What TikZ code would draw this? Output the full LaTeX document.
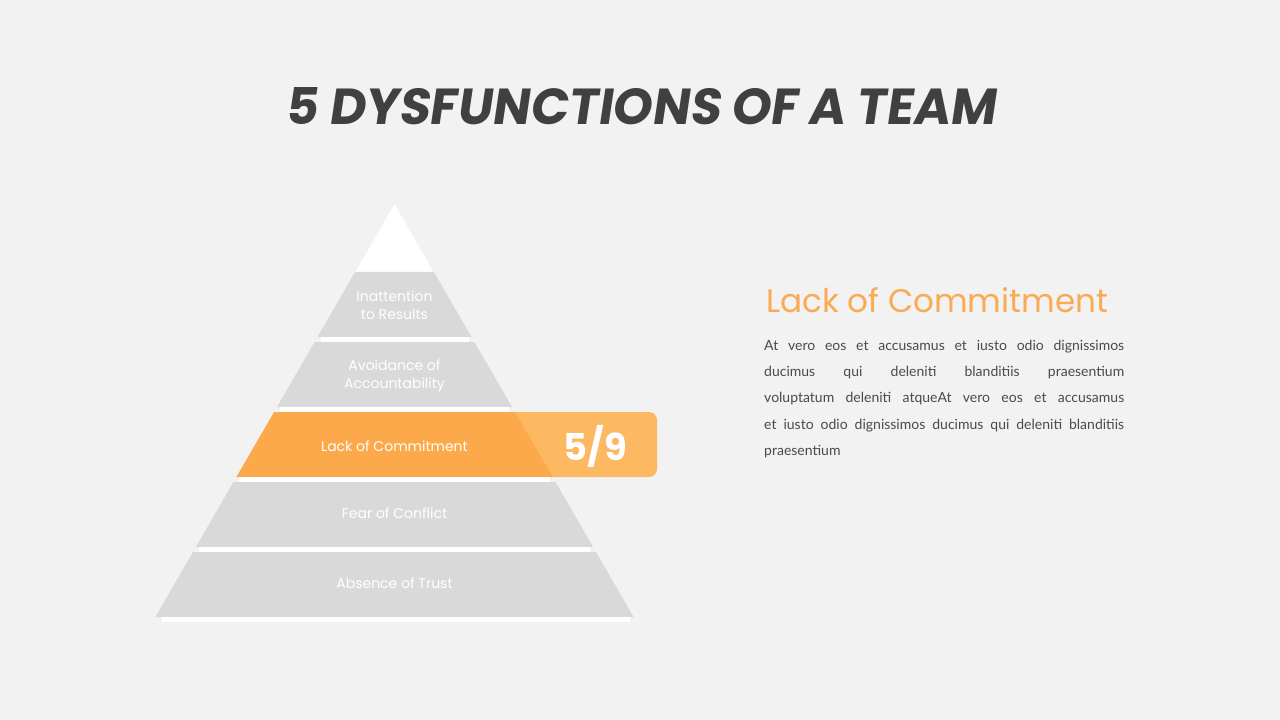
\documentclass[tikz,border=0pt]{standalone}
\usepackage{fontspec}
\setmainfont{Poppins}
\newfontfamily\titlefont[FakeSlant=0.15]{Poppins}
\newfontfamily\bodyfont{Lato}
\definecolor{bg}{HTML}{F2F2F2}
\definecolor{slabgray}{HTML}{D9D9D9}
\definecolor{slaborange}{HTML}{FBA94B}
\definecolor{boxorange}{HTML}{FDB862}
\definecolor{titlegray}{HTML}{404040}
\definecolor{headorange}{HTML}{F9AB53}
\definecolor{bodygray}{HTML}{4A4A4A}
\tikzset{
  slab/.style={fill=slabgray},
  hotslab/.style={fill=slaborange},
  gapstrip/.style={fill=white},
  slablabel/.style={text=white, font=\fontsize{14}{18.5}\selectfont, align=center, inner sep=0pt},
  bodyline/.style={anchor=base west, inner sep=0pt, text=bodygray, font=\bodyfont\fontsize{14}{16}\selectfont},
}
\begin{document}
\begin{tikzpicture}[x=1pt,y=-1pt]
\fill[bg] (0,0) rectangle (1280,720);
\useasboundingbox (0,0) rectangle (1280,720);

% title
\node[text=titlegray, inner sep=0pt] (title) at (640,106.5)
  {\resizebox{710pt}{37pt}{\titlefont\bfseries 5 DYSFUNCTIONS OF A TEAM}};

% 5/9 box (behind the orange slab)
\fill[boxorange, rounded corners=8pt] (470,412) rectangle (657,477);
\node[text=white, inner sep=0pt, font=\bfseries\fontsize{37}{40}\selectfont] (count) at (595,446) {5/9};

% pyramid
\fill[white] (394.5,204) -- (433.3,271.5) -- (355.7,271.5) -- cycle;
\fill[slab] (355.1,272) -- (433.9,272) -- (471.5,337) -- (317.5,337) -- cycle;
\fill[gapstrip] (320.5,337) rectangle (468.5,342);
\fill[slab] (314.6,342) -- (474.4,342) -- (512,407) -- (277,407) -- cycle;
\fill[gapstrip] (280,407) rectangle (509,412);
\fill[hotslab] (274.1,412) -- (514.9,412) -- (552.6,477) -- (236.4,477) -- cycle;
\fill[gapstrip] (239.4,477) rectangle (549.6,482);
\fill[slab] (233.5,482) -- (555.5,482) -- (593.1,547) -- (195.9,547) -- cycle;
\fill[gapstrip] (198.9,547) rectangle (590.1,552);
\fill[slab] (193,552) -- (596,552) -- (633.6,617) -- (155.4,617) -- cycle;
\fill[gapstrip] (162,617) rectangle (630,622);

\node[slablabel] (l1) at (394.5,305) {Inattention\\to Results};
\node[slablabel] (l2) at (394.5,376) {Avoidance of\\Accountability};
\node[slablabel] (l3) at (394.5,446) {Lack of Commitment};
\node[slablabel] (l4) at (394.5,513) {Fear of Conflict};
\node[slablabel] (l5) at (394.5,583) {Absence of Trust};

% right side text
\node[anchor=south west, inner sep=0pt, text=headorange] (head) at (766,313)
  {\resizebox{342pt}{!}{Lack of Commitment}};
\node[bodyline] (b1) at (764,350.5) {\makebox[360pt][s]{At vero eos et accusamus et iusto odio dignissimos}};
\node[bodyline] (b2) at (764,376.7) {\makebox[360pt][s]{ducimus qui deleniti blanditiis praesentium}};
\node[bodyline] (b3) at (764,402.9) {\makebox[360pt][s]{voluptatum deleniti atqueAt vero eos et accusamus}};
\node[bodyline] (b4) at (764,429.1) {\makebox[360pt][s]{et iusto odio dignissimos ducimus qui deleniti blanditiis}};
\node[bodyline] (b5) at (764,455.3) {praesentium};
\end{tikzpicture}
\end{document}
